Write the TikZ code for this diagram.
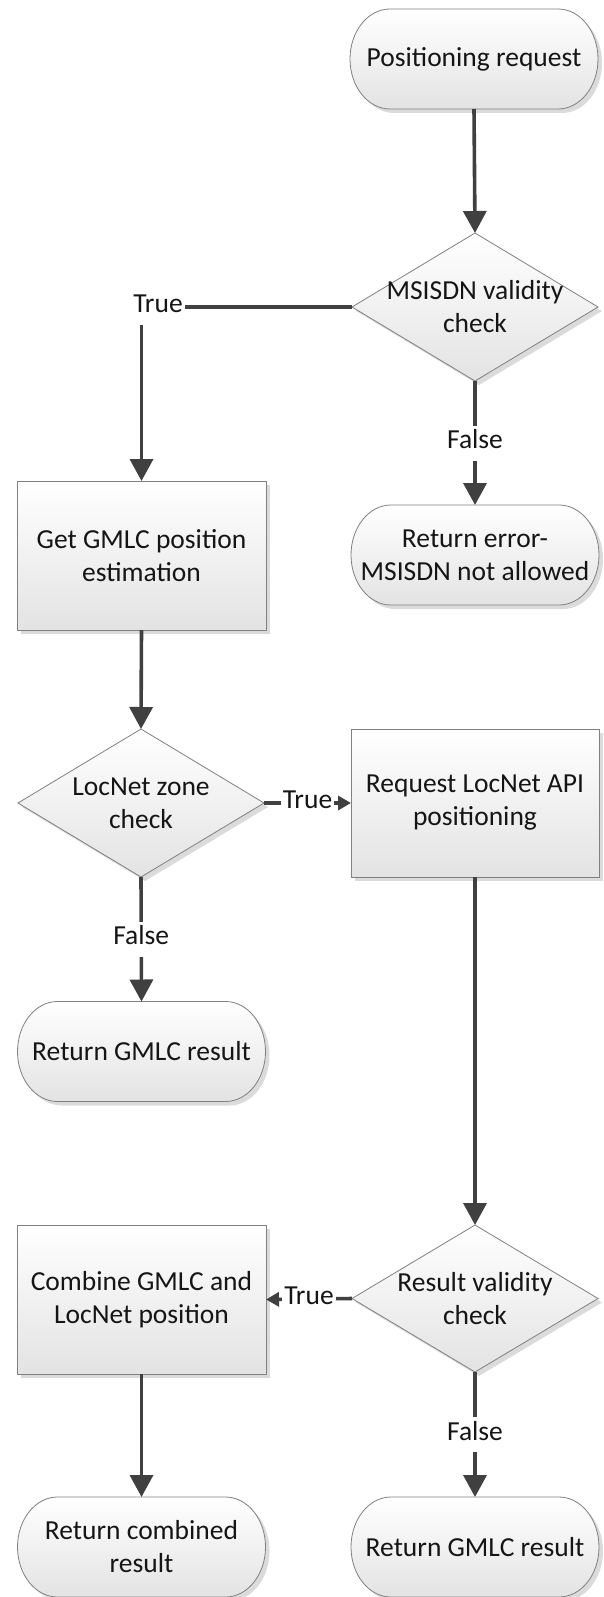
\documentclass[tikz,border=0pt]{standalone}
\usepackage{fontspec}
\setmainfont{Carlito}
\usetikzlibrary{shapes.geometric,arrows.meta,backgrounds,shadows}
\definecolor{linegray}{HTML}{404040}
\definecolor{bordgray}{HTML}{808080}
\definecolor{botfill}{HTML}{E3E3E3}
\definecolor{txtcol}{HTML}{151515}
\tikzset{
  base/.style={font=\fontsize{27.5}{33}\selectfont, align=center, text=txtcol, inner sep=0pt, outer sep=0pt},
  myshadow/.style={drop shadow={shadow xshift=4pt, shadow yshift=-4pt, fill=black, opacity=0.14}},
  procbox/.style={base, rectangle, draw=bordgray, line width=0.8pt, top color=white, bottom color=botfill,
    minimum width=249pt, minimum height=149pt, myshadow},
  decbox/.style={diamond, draw=bordgray, line width=0.8pt, top color=white, bottom color=botfill,
    minimum width=246pt, minimum height=148pt, inner sep=0pt, outer sep=0pt, myshadow},
  dectext/.style={base},
  termbox/.style={base, rectangle, minimum width=248pt, minimum height=100pt},
  termshape/.style={draw=bordgray, line width=0.8pt, top color=white, bottom color=botfill, myshadow},
  conn/.style={draw=linegray, line width=3.6pt, -{Triangle[width=23pt,length=22pt]}},
  connS/.style={draw=linegray, line width=3.6pt, -{Triangle[width=14pt,length=13pt]}},
  lbl/.style={base, fill=white, text height=19pt, text depth=8pt, inner xsep=2pt, inner ysep=4pt},
}
\newcommand\termpath[1]{%
  \path[termshape] ([xshift=40pt]#1.north west) -- ([xshift=-40pt]#1.north east)
    arc[start angle=90, end angle=-90, x radius=40pt, y radius=50pt]
    -- ([xshift=40pt]#1.south west)
    arc[start angle=270, end angle=90, x radius=40pt, y radius=50pt] -- cycle;}
\begin{document}
\begin{tikzpicture}[x=1pt, y=-1pt]
\useasboundingbox (0,0) rectangle (603,1597);

% nodes
\node[termbox] (start) at (474,59) {Positioning request};
\node[decbox] (d1) at (475,307) {};
\node[dectext] (d1t) at (d1) {MSISDN validity\\check};
\node[termbox] (err) at (475,555) {Return error-\\MSISDN not allowed};
\node[procbox] (gmlc) at (141.5,555.5) {Get GMLC position\\estimation};
\node[decbox] (d2) at (141,803) {};
\node[dectext] (d2t) at (d2) {LocNet zone\\check};
\node[procbox, minimum width=248pt, minimum height=148pt] (req) at (475,803) {Request LocNet API\\positioning};
\node[termbox] (ret1) at (141.5,1051.5) {Return GMLC result};
\node[decbox, minimum height=147pt] (d3) at (475,1298.5) {};
\node[dectext] (d3t) at (d3) {Result validity\\check};
\node[procbox] (comb) at (141.5,1299.5) {Combine GMLC and\\LocNet position};
\node[termbox] (ret2) at (141.5,1547) {Return combined\\result};
\node[termbox] (ret3) at (475,1547) {Return GMLC result};

\begin{scope}[on background layer]
  \fill[white] (0,0) rectangle (603,1597);
  \termpath{start}
  \termpath{err}
  \termpath{ret1}
  \termpath{ret2}
  \termpath{ret3}
\end{scope}

% connectors
\draw[conn] (start.south) -- (d1.north);
\draw[conn] (d1.west) -- (d1.west -| gmlc.north) node[lbl, xshift=16.5pt] (lt1) {True} -- (gmlc.north);
\draw[conn] (d1.south) -- node[lbl] (lf1) {False} (err.north);
\draw[conn] (gmlc.south) -- (d2.north);
\draw[connS] (d2.east) -- node[lbl] (lt2) {True} (req.west);
\draw[conn] (d2.south) -- node[lbl] (lf2) {False} (ret1.north);
\draw[conn] (req.south) -- (d3.north);
\draw[connS] (d3.west) -- node[lbl] (lt3) {True} (comb.east);
\draw[conn] (d3.south) -- node[lbl] (lf3) {False} (ret3.north);
\draw[conn] (comb.south) -- (ret2.north);
\end{tikzpicture}
\end{document}
